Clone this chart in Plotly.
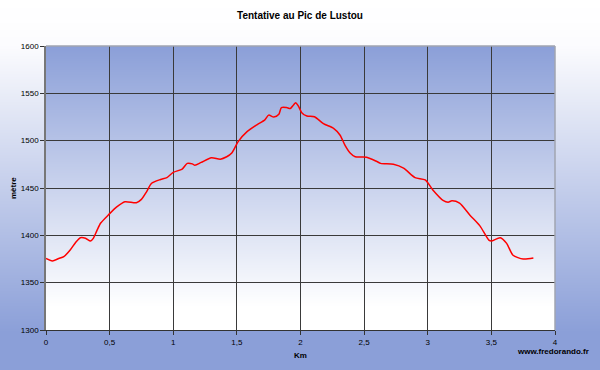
import base64, struct, zlib
import plotly.graph_objects as go

# ---- data ----
km = [0.00, 0.05, 0.10, 0.14, 0.19, 0.23, 0.27, 0.31, 0.35, 0.37, 0.40, 0.43, 0.49, 0.556,
      0.62, 0.71, 0.75, 0.79, 0.83, 0.90, 0.95, 1.00, 1.07, 1.11, 1.15, 1.17, 1.22, 1.30,
      1.37, 1.42, 1.46, 1.51, 1.58, 1.66, 1.72, 1.75, 1.79, 1.83, 1.85, 1.89, 1.92, 1.945,
      1.962, 1.983, 2.01, 2.05, 2.11, 2.18, 2.26, 2.31, 2.35, 2.39, 2.43, 2.52, 2.60, 2.63,
      2.73, 2.81, 2.90, 2.98, 3.04, 3.12, 3.16, 3.19, 3.25, 3.33, 3.41, 3.48, 3.50, 3.57,
      3.62, 3.67, 3.75, 3.83]
metre = [1375.5, 1373, 1375.5, 1377.5, 1384.5, 1392, 1397.5, 1397, 1394, 1396.5, 1405, 1413,
         1421.5, 1430, 1435.5, 1434.5, 1438, 1446, 1455, 1459, 1461, 1466.5, 1470, 1476,
         1475.5, 1474, 1477, 1482, 1480.5, 1483, 1487, 1499, 1509.5, 1517, 1522, 1527, 1525,
         1528, 1535, 1535, 1534, 1537.7, 1540, 1536.6, 1529.6, 1526, 1525.3, 1518, 1513,
         1506, 1495, 1487, 1483, 1482.5, 1478, 1476, 1475, 1471, 1461, 1458.5, 1448, 1437,
         1435, 1436.5, 1434, 1421.5, 1410, 1395, 1394, 1397.5, 1391.5, 1379, 1375, 1376]
x_tickvals = [0, 0.5, 1, 1.5, 2, 2.5, 3, 3.5, 4]
x_ticktext = ["0", "0,5", "1", "1,5", "2", "2,5", "3", "3,5", "4"]
y_tickvals = [1300, 1350, 1400, 1450, 1500, 1550, 1600]

W, H = 600, 370
L, R, T, B = 46, 45, 46, 40
PW, PH = W - L - R, H - T - B


def png_gradient(height, stops):
    """1px-wide vertical gradient PNG as data URI. stops: list of (pos0..1, (r,g,b))."""
    rows = b""
    for i in range(height):
        t = i / (height - 1)
        for j in range(len(stops) - 1):
            p0, c0 = stops[j]
            p1, c1 = stops[j + 1]
            if p0 <= t <= p1:
                f = 0 if p1 == p0 else (t - p0) / (p1 - p0)
                c = tuple(int(round(c0[k] + (c1[k] - c0[k]) * f)) for k in range(3))
                break
        else:
            c = stops[-1][1]
        rows += b"\x00" + bytes(c) + bytes(c)
    def chunk(tag, data):
        return struct.pack(">I", len(data)) + tag + data + struct.pack(">I", zlib.crc32(tag + data) & 0xffffffff)
    png = b"\x89PNG\r\n\x1a\n"
    png += chunk(b"IHDR", struct.pack(">IIBBBBB", 2, height, 8, 2, 0, 0, 0))
    png += chunk(b"IDAT", zlib.compress(rows))
    png += chunk(b"IEND", b"")
    return "data:image/png;base64," + base64.b64encode(png).decode()


blue = (139, 159, 216)
white = (255, 255, 255)
paper_img = png_gradient(H, [(0, white), (0.12, (252, 252, 254)), (0.9, blue), (1, blue)])
plot_img = png_gradient(PH, [(0, blue), (0.92, white), (1, white)])

fig = go.Figure()
fig.add_trace(go.Scatter(x=km, y=metre, mode="lines",
                         line=dict(color="#FF0000", width=1.5, shape="spline", smoothing=0.7),
                         hoverinfo="skip", showlegend=False))

fnt = "Liberation Sans Narrow, Arial Narrow, Arial, Liberation Sans, sans-serif"
grid = "#3a3a3a"
fig.update_layout(
    width=W, height=H,
    margin=dict(l=L, r=R, t=T, b=B),
    paper_bgcolor="rgba(0,0,0,0)", plot_bgcolor="rgba(0,0,0,0)",
    title=dict(text="<b>Tentative au Pic de Lustou</b>", x=0.5, xanchor="center",
               y=1 - 15 / H, yanchor="middle", yref="container",
               font=dict(family="Arial, Liberation Sans", size=10, color="black")),
    images=[
        dict(source=paper_img, xref="paper", yref="paper", x=-L / PW, y=1 + T / PH,
             sizex=W / PW, sizey=H / PH, sizing="stretch", layer="below",
             xanchor="left", yanchor="top"),
        dict(source=plot_img, xref="paper", yref="paper", x=0, y=1,
             sizex=1, sizey=1, sizing="stretch", layer="below",
             xanchor="left", yanchor="top"),
    ],
    xaxis=dict(range=[0, 4], tickvals=x_tickvals, ticktext=x_ticktext,
               showgrid=True, gridcolor=grid, gridwidth=1, zeroline=False,
               showline=True, linecolor="#333333", linewidth=1, mirror=False,
               ticks="outside", ticklen=4, tickcolor="#333333",
               tickfont=dict(family=fnt, size=8, color="black")),
    yaxis=dict(range=[1300, 1600], tickvals=y_tickvals,
               showgrid=True, gridcolor=grid, gridwidth=1, zeroline=False,
               showline=True, linecolor="#777777", linewidth=1.5,
               ticks="outside", ticklen=4, tickcolor="#333333",
               tickfont=dict(family=fnt, size=8, color="black")),
    shapes=[
        dict(type="line", xref="paper", yref="paper", x0=0, x1=1, y0=1, y1=1,
             line=dict(color="#A0A4B0", width=1.5)),
        dict(type="line", xref="paper", yref="paper", x0=1, x1=1, y0=0, y1=1,
             line=dict(color="#A0A4B0", width=1.5)),
    ],
    annotations=[
        dict(text="<b>mètre</b>", xref="paper", yref="paper", x=(13 - L) / PW, y=0.5,
             textangle=-90, showarrow=False, xanchor="center", yanchor="middle",
             font=dict(family="Arial, Liberation Sans", size=8, color="black")),
        dict(text="<b>Km</b>", xref="paper", yref="paper", x=(300 - L) / PW,
             y=-(355 - (T + PH)) / PH, showarrow=False, xanchor="center", yanchor="middle",
             font=dict(family="Arial, Liberation Sans", size=8, color="black")),
        dict(text="<b>www.fredorando.fr</b>", xref="paper", yref="paper",
             x=(591 - L) / PW, y=-(352 - (T + PH)) / PH, showarrow=False,
             xanchor="right", yanchor="middle",
             font=dict(family="Arial, Liberation Sans", size=8, color="black")),
    ],
)

fig.write_html("out.html", config={"displayModeBar": False},
               post_script="document.body.style.margin='0';document.body.style.padding='0';")
